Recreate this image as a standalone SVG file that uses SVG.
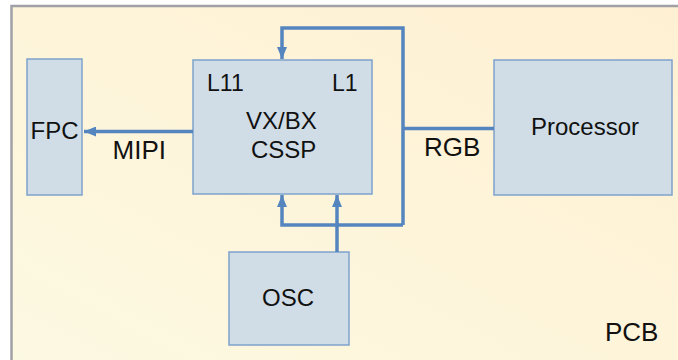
<svg xmlns="http://www.w3.org/2000/svg" width="678" height="360" viewBox="0 0 678 360">
<defs>
<linearGradient id="bg" x1="0" y1="1" x2="1" y2="0">
<stop offset="0" stop-color="#fcf9e2"/>
<stop offset="1" stop-color="#fff0d2"/>
</linearGradient>
<marker id="ah" viewBox="0 0 12 10" refX="12" refY="5" markerWidth="12" markerHeight="10" markerUnits="userSpaceOnUse" orient="auto">
<path d="M0,0 L12,5 L0,10 z" fill="#5585bf"/>
</marker>
<style>
.box{fill:#d0dde6;stroke:#7ea2cc;stroke-width:1.5}
.t{font-family:"Liberation Sans",Arial,sans-serif;fill:#111;font-size:24px}
.c{fill:none;stroke:#5585bf;stroke-width:3.5}
</style>
</defs>
<rect x="0" y="0" width="678" height="360" fill="#ffffff"/>
<g id="pcb">
<rect x="11.5" y="6" width="680" height="370" fill="url(#bg)" stroke="#a0a0a6" stroke-width="2.5"/>
<text class="t" x="605" y="341" style="font-size:26px">PCB</text>
</g>
<g id="fpc">
<rect class="box" x="27" y="59" width="55" height="136"/>
<text class="t" x="30.5" y="139">FPC</text>
</g>
<g id="cssp">
<rect class="box" x="193" y="60" width="179" height="134"/>
<text class="t" x="207" y="91" style="font-size:23px">L11</text>
<text class="t" x="332" y="91" style="font-size:23px">L1</text>
<text class="t" x="246" y="129">VX/BX</text>
<text class="t" x="251" y="158">CSSP</text>
</g>
<g id="processor">
<rect class="box" x="494" y="60" width="178" height="135"/>
<text class="t" x="531" y="135">Processor</text>
</g>
<g id="osc">
<rect class="box" x="229" y="252" width="120" height="93"/>
<text class="t" x="262" y="306">OSC</text>
</g>
<g id="connectors">
<path class="c" d="M193,131.5 L84,131.5" marker-end="url(#ah)"/>
<path class="c" d="M403,128.5 L494,128.5"/>
<path class="c" d="M403,225 L403,28 L282,28 L282,59" marker-end="url(#ah)"/>
<path class="c" d="M403,225 L282,225 L282,195" marker-end="url(#ah)"/>
<path class="c" d="M337,252 L337,195" marker-end="url(#ah)"/>
<text class="t" x="112.5" y="159" style="font-size:26px">MIPI</text>
<text class="t" x="424" y="156" style="font-size:26px">RGB</text>
</g>
</svg>
